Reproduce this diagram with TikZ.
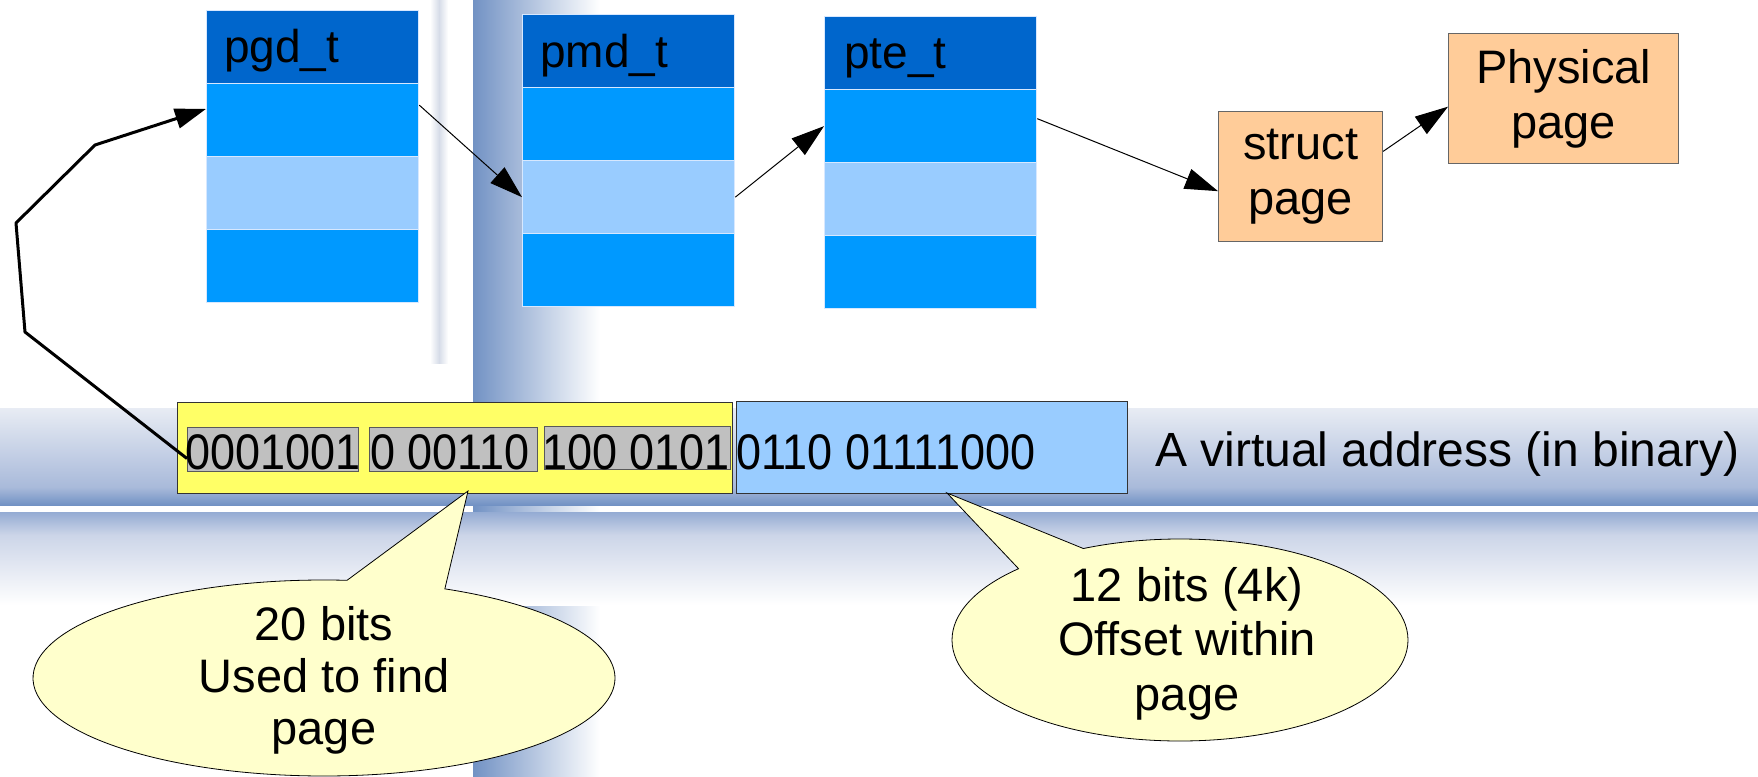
\documentclass[tikz,border=0pt]{standalone}
\usepackage{fontspec}
\setmainfont{Liberation Sans}
\newfontfamily\bitsfont[FakeStretch=0.9]{Liberation Sans}
\usetikzlibrary{arrows.meta,shapes.callouts}

\definecolor{hdrblue}{HTML}{0066CC}
\definecolor{rowblue}{HTML}{0099FF}
\definecolor{rowlight}{HTML}{99CCFF}
\definecolor{celledge}{HTML}{D7E8FF}
\definecolor{pagefill}{HTML}{FFCC99}
\definecolor{addrhi}{HTML}{FFFF66}
\definecolor{addrlo}{HTML}{99CCFF}
\definecolor{bitgray}{HTML}{C0C0C0}
\definecolor{notefill}{HTML}{FFFFCC}
\definecolor{bgdark}{HTML}{7292C4}
\definecolor{bgmid}{HTML}{A9BADA}
\definecolor{bgmidb}{HTML}{94ABD3}
\definecolor{bglight}{HTML}{CCD5E8}
\definecolor{bgtop}{HTML}{E8ECF4}
\definecolor{bgfaint}{HTML}{D6DCE8}

\tikzset{
  cell/.style={draw=celledge, line width=1.3pt, minimum width=212pt,
    minimum height=73pt, inner sep=0pt, anchor=north west},
  hdr/.style={cell, fill=hdrblue},
  entry/.style={cell, fill=rowblue},
  entrysel/.style={cell, fill=rowlight},
  tname/.style={font=\fontsize{46}{50}\selectfont, anchor=base west, inner sep=0pt},
  pagebox/.style={draw=black!60, line width=1.2pt, fill=pagefill, inner sep=0pt,
    align=center, anchor=north west, font=\fontsize{47}{55}\selectfont},
  addrbox/.style={draw=black!80, line width=1pt, inner sep=0pt, anchor=north west},
  bitbox/.style={draw=black!65, line width=1pt, fill=bitgray, inner sep=0pt, anchor=north west},
  bits/.style={font=\bitsfont\fontsize{50}{58}\selectfont, anchor=base west, inner sep=0pt},
  note/.style={ellipse callout, draw=black, line width=0.8pt, fill=notefill,
    inner sep=0pt, callout pointer arc=20},
  notetext/.style={align=center, anchor=base, inner sep=0pt},
  ptr/.style={-{Triangle[length=33pt,width=21pt]}, line width=1pt},
  fatptr/.style={-{Triangle[length=31pt,width=20pt]}, line width=3pt, line join=round},
}

\begin{document}
\begin{tikzpicture}[x=1pt,y=-1pt]
\useasboundingbox (0,0) rectangle (1758,776);

% slide backdrop: vertical and horizontal bands
\shade[left color=white, right color=white, middle color=bgfaint] (430,0) rectangle (448,363);
\shade[left color=bgdark, right color=white] (473,0) rectangle (600,776);
\shade[top color=bgtop, bottom color=bgmid] (0,408) rectangle (1758,487);
\shade[top color=bgmid, bottom color=bgdark] (0,487) rectangle (1758,505);
\shade[top color=bgmidb, bottom color=bglight] (0,512) rectangle (1758,535);
\shade[top color=bglight, bottom color=white] (0,535) rectangle (1758,605);

% page directory
\node[hdr] (pgd0) at (206,10) {};
\node[entry] (pgd1) at (206,83) {};
\node[entrysel] (pgd2) at (206,156) {};
\node[entry] (pgd3) at (206,229) {};
\node[tname] (pgdt) at ([xshift=18pt,yshift=-53pt]pgd0.north west) {pgd\_t};

% page middle directory
\node[hdr] (pmd0) at (522,14) {};
\node[entry] (pmd1) at (522,87) {};
\node[entrysel] (pmd2) at (522,160) {};
\node[entry] (pmd3) at (522,233) {};
\node[tname] (pmdt) at ([xshift=18pt,yshift=-53pt]pmd0.north west) {pmd\_t};

% page table
\node[hdr] (pte0) at (824,16) {};
\node[entry] (pte1) at (824,89) {};
\node[entrysel] (pte2) at (824,162) {};
\node[entry] (pte3) at (824,235) {};
\node[tname] (ptet) at ([xshift=20pt,yshift=-52pt]pte0.north west) {pte\_t};

% page descriptor and the page itself
\node[pagebox, minimum width=164pt, minimum height=130pt] (sp) at (1218,111) {struct\\page};
\node[pagebox, minimum width=230pt, minimum height=130pt] (pp) at (1448,33) {Physical\\page};

% the virtual address
\node[addrbox, fill=addrhi, minimum width=555pt, minimum height=91pt] (yb) at (177,402) {};
\node[addrbox, fill=addrlo, minimum width=391pt, minimum height=92pt] (bb) at (736,401) {};
\node[bitbox, minimum width=171pt, minimum height=44pt] (g1) at (187,427) {};
\node[bitbox, minimum width=168pt, minimum height=44pt] (g2) at (369,427) {};
\node[bitbox, minimum width=186pt, minimum height=43pt] (g3) at (544,426) {};
\node[bits] (b1) at (185,469) {0001001};
\node[bits] (b2) at (370,469) {0 00110};
\node[bits] (b3) at (542,469) {100 0101};
\node[bits] (b4) at (736,469) {0110 01111000};
\node[anchor=base west, inner sep=0pt, font=\fontsize{48}{56}\selectfont] (va)
  at (1155,466) {A virtual address (in binary)};

% lookup chain
\coordinate (w1) at (25,332);
\coordinate (w2) at (16,223);
\coordinate (w3) at (95,145);
\draw[fatptr] (g1.186) -- (w1) -- (w2) -- (w3) -- (pgd1.174);
\draw[ptr] (pgd1.8) -- (pmd2.west);
\draw[ptr] (pmd2.east) -- (pte1.west);
\draw[ptr] (pte1.4) -- (sp.190);
\draw[ptr] (sp.17) -- (pp.184);

% callouts (the text's base is the baseline of its last line)
\coordinate (tip1) at ([xshift=13pt,yshift=3pt]yb.south);
\coordinate (tip2) at ([xshift=15pt,yshift=1pt]bb.south);
\node[note, minimum width=582pt, minimum height=196pt, callout absolute pointer={(tip1)}]
  (n1) at (324,678) {};
\node[notetext, font=\fontsize{47}{52}\selectfont] (n1t) at (324,744)
  {20 bits\\Used to find\\page};
\node[note, minimum width=456pt, minimum height=202pt, callout absolute pointer={(tip2)}]
  (n2) at (1180,640) {};
\node[notetext, font=\fontsize{47}{54.5}\selectfont] (n2t) at (1187,710)
  {12 bits (4k)\\Offset within\\page};
\end{tikzpicture}
\end{document}
